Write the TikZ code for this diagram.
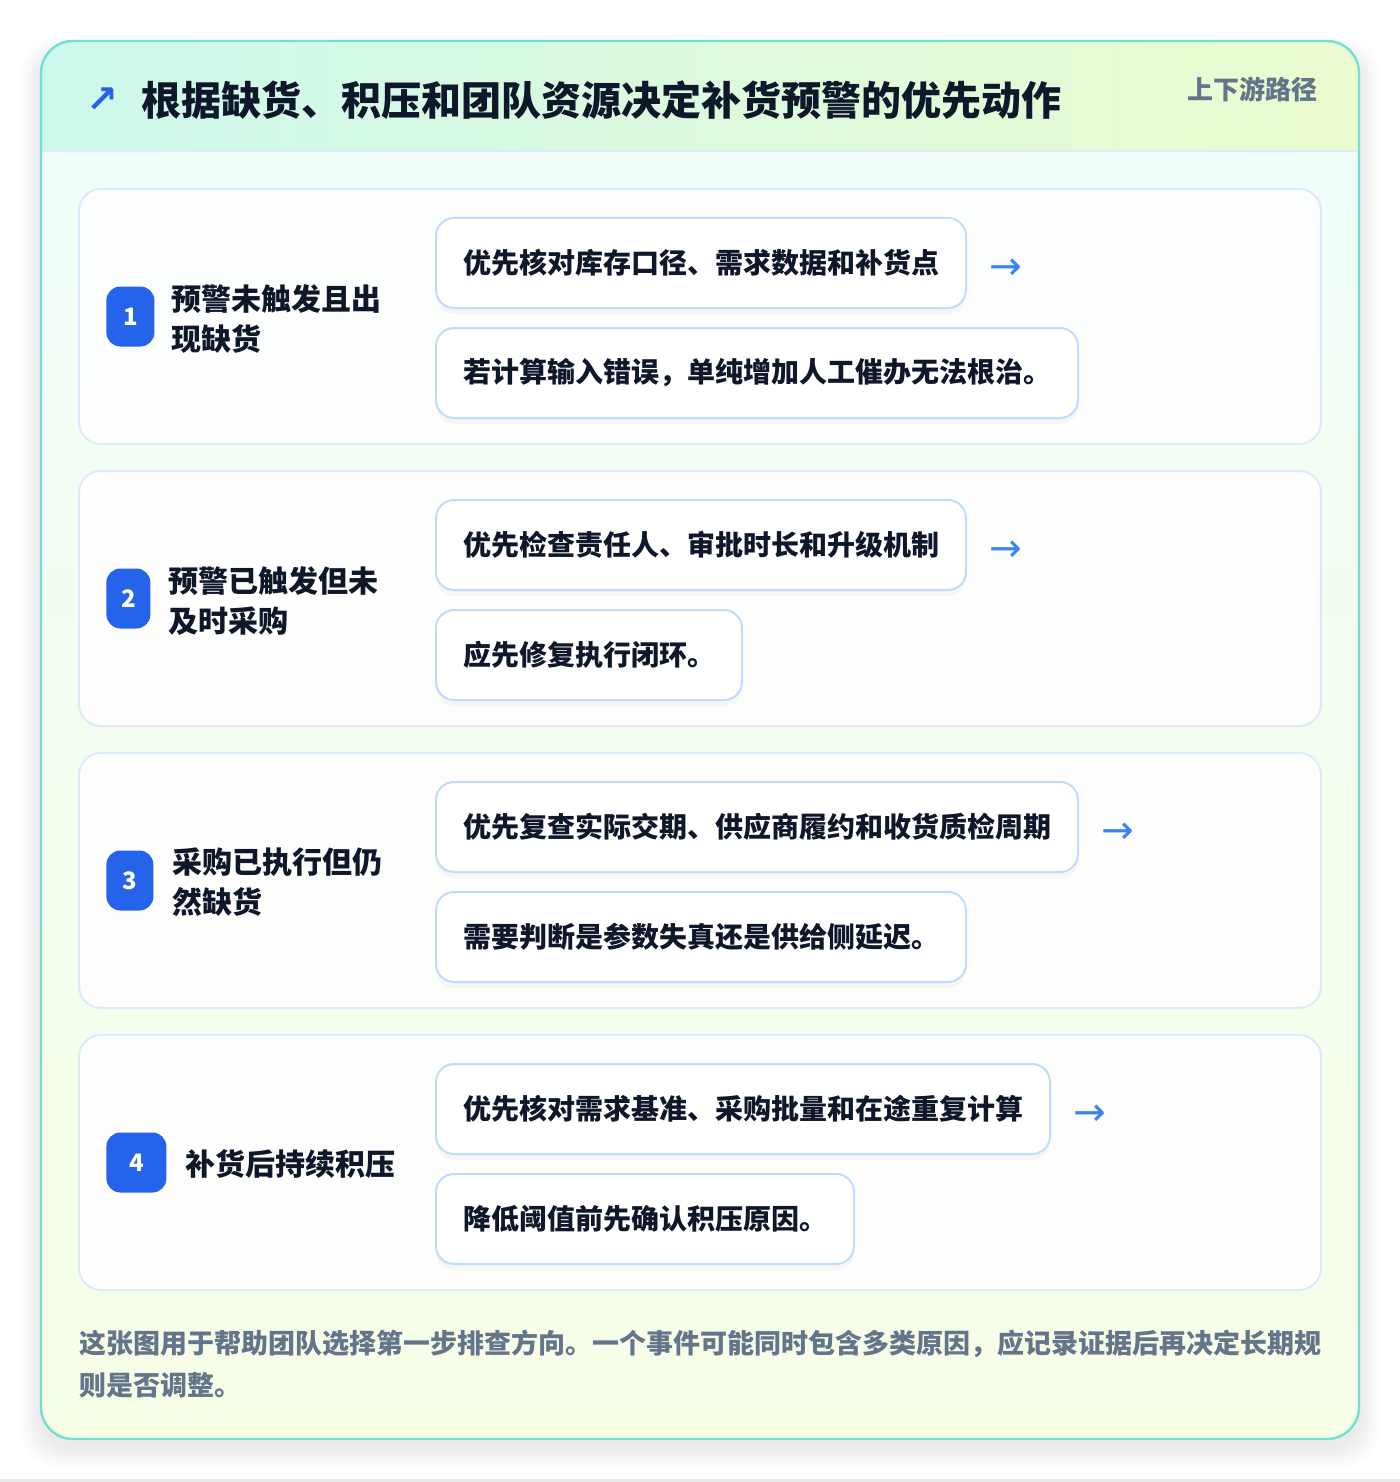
\documentclass[tikz,border=0pt]{standalone}
\usepackage{fontspec}
\setmainfont{Noto Sans CJK SC}
\newfontfamily\symfont{DejaVu Sans}
\usetikzlibrary{positioning,shadows}

\definecolor{ink}{HTML}{0F172A}
\definecolor{muted}{HTML}{64748B}
\definecolor{cardline}{HTML}{6EE2CF}
\definecolor{headleft}{HTML}{CDF8EC}
\definecolor{headright}{HTML}{EBFBCF}
\definecolor{bodytop}{HTML}{F0FDFA}
\definecolor{bodybottom}{HTML}{F6FEE6}
\definecolor{rowline}{HTML}{DCEAFB}
\definecolor{actline}{HTML}{BFDBFE}
\definecolor{badgeblue}{HTML}{2563EB}
\definecolor{arrowblue}{HTML}{3B82F6}

\tikzset{
  rowcard/.style={draw=rowline, line width=1pt, fill=white, fill opacity=0.85, rounded corners=11pt},
  badge/.style={anchor=west, fill=badgeblue, rounded corners=7pt, text=white,
    font=\fontsize{12}{14}\selectfont\bfseries, minimum height=30pt, inner sep=0pt},
  rowlabel/.style={anchor=west, align=left, inner sep=0pt, text=ink,
    font=\fontsize{15}{20}\selectfont\bfseries},
  actbox/.style={draw=actline, line width=1pt, fill=white, rounded corners=9pt, anchor=north west,
    minimum height=45pt, inner xsep=13.5pt, inner ysep=0pt, text=ink,
    font=\fontsize{14}{16}\selectfont\bfseries,
    drop shadow={opacity=0.06, shadow xshift=0pt, shadow yshift=-3pt}},
  nextarrow/.style={anchor=west, inner sep=0pt, yshift=-3pt, text=arrowblue, font=\symfont\fontsize{19.5}{20}\selectfont},
}

\begin{document}
\begin{tikzpicture}[x=0.5pt, y=-0.5pt]
  \useasboundingbox (0,0) rectangle (1400,1482);
  \fill[black!9] (0,1479) rectangle (1400,1482);

  % soft shadow under the card
  \foreach \s in {1,...,10}
    \fill[black, opacity=0.006, rounded corners=18pt]
      (41-2*\s,41+8-\s) rectangle (1359+2*\s,1439+8+2*\s);

  % card body and header band
  \shade[top color=bodytop, bottom color=bodybottom, rounded corners=16pt] (41,41) rectangle (1359,1439);
  \begin{scope}
    \clip[rounded corners=16pt] (41,41) rectangle (1359,1439);
    \shade[left color=headleft, right color=headright] (41,41) rectangle (1359,151);
  \end{scope}
  \draw[rowline, line width=1pt] (41,151) -- (1359,151);
  \draw[cardline, line width=1.2pt, rounded corners=16pt] (41,41) rectangle (1359,1439);

  % title
  \node[inner sep=0pt, text=badgeblue, font=\symfont\bfseries\fontsize{19}{19}\selectfont] (trend) at (102,100) {↗};
  \node[anchor=west, inner sep=0pt, text=ink, font=\fontsize{20}{24}\selectfont\bfseries] (title) at (141,100)
    {根据缺货、积压和团队资源决定补货预警的优先动作};
  \node[anchor=east, inner sep=0pt, text=muted, font=\fontsize{13}{16}\selectfont\bfseries] (tag) at (1318,89)
    {上下游路径};

  % rows
  \foreach \n/\bw/\lx/\lab/\acta/\actb in {
    1/24pt/171/{预警未触发且出\\现缺货}/{优先核对库存口径、需求数据和补货点}/{若计算输入错误，单纯增加人工催办无法根治。},
    2/22pt/168/{预警已触发但未\\及时采购}/{优先检查责任人、审批时长和升级机制}/{应先修复执行闭环。},
    3/23.5pt/172/{采购已执行但仍\\然缺货}/{优先复查实际交期、供应商履约和收货质检周期}/{需要判断是参数失真还是供给侧延迟。},
    4/30pt/185/{补货后持续积压}/{优先核对需求基准、采购批量和在途重复计算}/{降低阈值前先确认积压原因。}}
  {
    \pgfmathsetmacro\ytop{189+(\n-1)*282}
    \pgfmathsetmacro\ymid{\ytop+127.5}
    \draw[rowcard] (79,\ytop) rectangle (1321,\ytop+255);
    \node[badge, minimum width=\bw] (badge\n) at (106,\ymid) {\n};
    \node[rowlabel] (label\n) at (\lx,\ymid+2) {\lab};
    \node[actbox] (act\n a) at (435,\ytop+28) {\acta};
    \node[actbox] (act\n b) at (435,\ytop+138) {\actb};
    \node[nextarrow, right=11pt of act\n a] (next\n) {→};
  }

  % footnote
  \node[anchor=west, align=left, inner sep=0pt, text=muted, font=\fontsize{13.5}{21}\selectfont\bfseries] (note) at (79,1364)
    {这张图用于帮助团队选择第一步排查方向。一个事件可能同时包含多类原因，应记录证据后再决定长期规\\则是否调整。};
\end{tikzpicture}
\end{document}
